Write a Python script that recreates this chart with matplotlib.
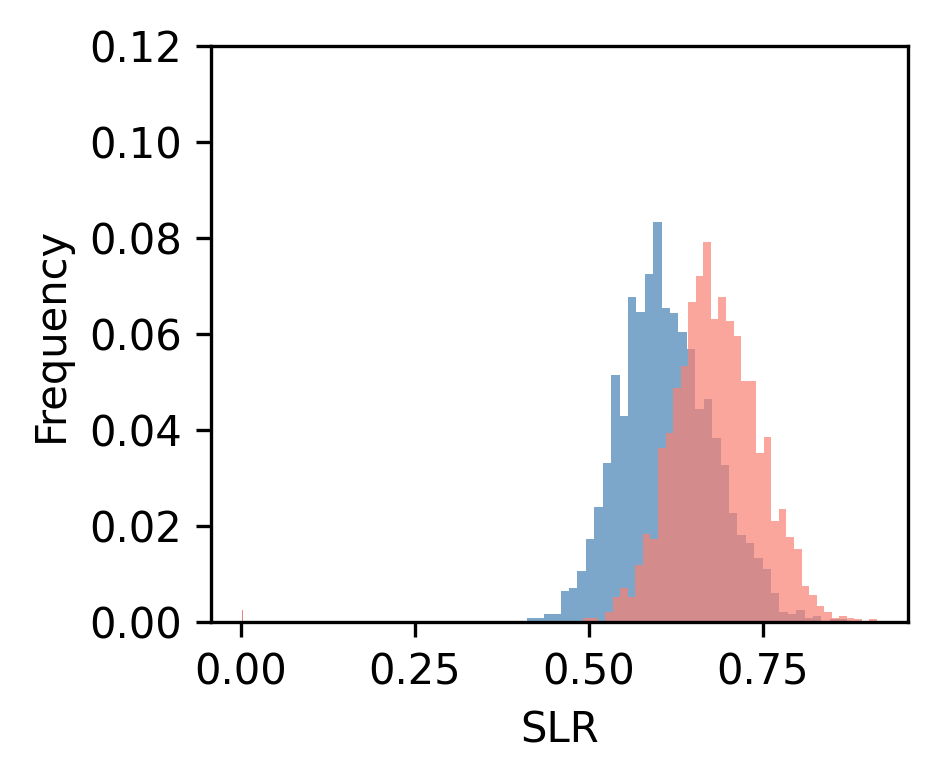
import matplotlib
matplotlib.use("Agg")
import matplotlib.pyplot as plt
import numpy as np

# histogram heights (fraction of samples per bin), 40 bins each
blue_range = (0.4109, 0.8945)
blue_freq = [0.0008, 0.0008, 0.0017, 0.0017, 0.0065, 0.0071, 0.0107, 0.0173,
             0.0240, 0.0331, 0.0515, 0.0429, 0.0677, 0.0646, 0.0725, 0.0833,
             0.0654, 0.0644, 0.0604, 0.0569, 0.0444, 0.0465, 0.0383, 0.0327,
             0.0227, 0.0181, 0.0165, 0.0133, 0.0110, 0.0060, 0.0021, 0.0017,
             0.0025, 0.0008, 0.0013, 0.0000, 0.0006, 0.0006, 0.0000, 0.0000]

red_range = (0.4799, 0.9138)
red_freq = [0.0003, 0.0008, 0.0008, 0.0002, 0.0021, 0.0052, 0.0071, 0.0052,
            0.0119, 0.0183, 0.0173, 0.0363, 0.0394, 0.0488, 0.0534, 0.0667,
            0.0721, 0.0792, 0.0631, 0.0677, 0.0627, 0.0596, 0.0502, 0.0502,
            0.0352, 0.0385, 0.0210, 0.0235, 0.0177, 0.0152, 0.0075, 0.0056,
            0.0033, 0.0021, 0.0008, 0.0013, 0.0008, 0.0006, 0.0002, 0.0006]

# samples sitting at (about) zero
zero_blue = 0.0003
zero_red = 0.0025

fig = plt.figure(figsize=(938 / 300, 783 / 300), dpi=300)
ax = fig.add_axes([0.2249, 0.2056, 0.7431, 0.7357])

blue_edges = np.linspace(blue_range[0], blue_range[1], len(blue_freq) + 1)
red_edges = np.linspace(red_range[0], red_range[1], len(red_freq) + 1)
zero_edges = [0.0015, 0.0035]

ax.hist(blue_edges[:-1], bins=blue_edges, weights=blue_freq,
        color="steelblue", alpha=0.7)
ax.hist([0.002], bins=zero_edges, weights=[zero_blue], color="steelblue", alpha=0.7)
ax.hist(red_edges[:-1], bins=red_edges, weights=red_freq,
        color="salmon", alpha=0.7)
ax.hist([0.002], bins=zero_edges, weights=[zero_red], color="#e0524a", alpha=0.7)

ax.set_xlim(-0.0431, 0.9583)
ax.set_ylim(0, 0.12)
ax.set_xticks([0.0, 0.25, 0.5, 0.75])
ax.set_yticks(np.arange(0, 0.121, 0.02))
ax.xaxis.set_major_formatter(matplotlib.ticker.FormatStrFormatter("%.2f"))
ax.yaxis.set_major_formatter(matplotlib.ticker.FormatStrFormatter("%.2f"))
ax.set_xlabel("SLR")
ax.set_ylabel("Frequency")

fig.savefig("out.png", dpi=300)
